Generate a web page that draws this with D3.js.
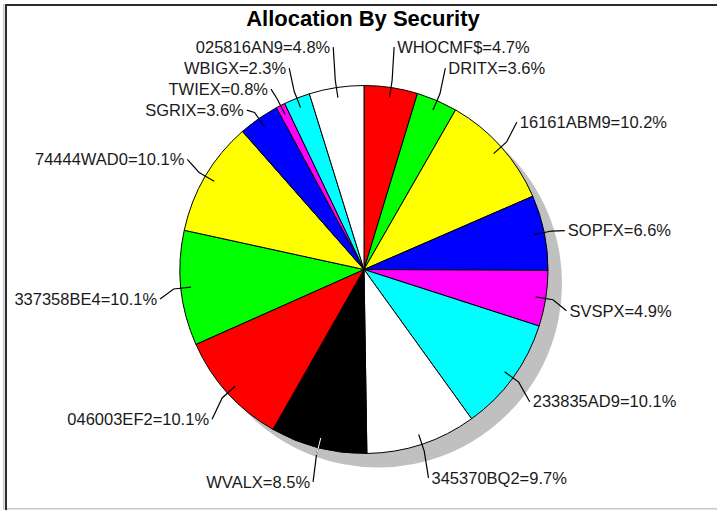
<!DOCTYPE html>
<html>
<head>
<meta charset="utf-8">
<script src="https://cdn.jsdelivr.net/npm/d3@7"></script>
<style>
    body { margin: 0; background: #fff; }
    text { font-family: "Liberation Sans", Arial, sans-serif; }
</style>
</head>
<body>
<main></main>
<script>
const securities = ["WHOCMF$", "DRITX", "16161ABM9", "SOPFX", "SVSPX", "233835AD9", "345370BQ2",
    "WVALX", "046003EF2", "337358BE4", "74444WAD0", "SGRIX", "TWIEX", "WBIGX", "025816AN9"];
const weights = [4.7, 3.6, 10.2, 6.6, 4.9, 10.1, 9.7, 8.5, 10.1, 10.1, 10.1, 3.6, 0.8, 2.3, 4.8];
const palette = ["#ff0000", "#00ff00", "#ffff00", "#0000ff", "#ff00ff", "#00ffff", "#ffffff", "#000000"];

const drawChart = () => {

    const outerWidth = 717,
        outerHeight = 510,
        cx = 364,
        cy = 269.5,
        radius = 184,
        shadowOffset = 14;

    const svg = d3.select("main").append("svg")
        .attr("width", outerWidth)
        .attr("height", outerHeight)
        .style("display", "block");

    // sunken frame
    svg.append("rect").attr("x", 3).attr("y", 4).attr("width", 1.5).attr("height", 506).attr("fill", "#c8c8c8");
    svg.append("rect").attr("x", 5).attr("y", 508).attr("width", 712).attr("height", 1.5).attr("fill", "#c8c8c8");
    svg.append("rect").attr("x", 5).attr("y", 4).attr("width", 712).attr("height", 2).attr("fill", "#2b2b2b");
    svg.append("rect").attr("x", 5).attr("y", 4).attr("width", 2).attr("height", 506).attr("fill", "#2b2b2b");

    svg.append("text")
        .attr("x", 363)
        .attr("y", 26)
        .attr("text-anchor", "middle")
        .attr("font-size", 22)
        .attr("font-weight", "bold")
        .attr("fill", "#000")
        .text("Allocation By Security");

    const data = securities.map((s, i) => ({name: s, value: weights[i]}));

    const pie = d3.pie().sort(null).value(d => d.value);
    const arcs = pie(data);

    const color = d3.scaleOrdinal().domain(d3.range(palette.length)).range(palette);

    const arc = d3.arc().innerRadius(0).outerRadius(radius);

    const g = svg.append("g")
        .attr("transform", "translate(" + cx + "," + cy + ")");

    // shadow
    g.append("circle")
        .attr("cx", shadowOffset)
        .attr("cy", shadowOffset)
        .attr("r", radius)
        .attr("fill", "#c0c0c0");

    g.selectAll(".slice")
        .data(arcs)
        .enter()
        .append("path")
        .attr("class", "slice")
        .attr("d", arc)
        .attr("fill", (d, i) => color(i % palette.length))
        .attr("stroke", "#000")
        .attr("stroke-width", 1)
        .attr("stroke-linejoin", "round");

    // label layout: egg-shaped ring around the pie, then push overlapping labels apart
    const polar = (a, r) => [r * Math.sin(a), -r * Math.cos(a)];
    const labelPos = (a) => {
        const c = Math.cos(a);
        const ry = c > 0 ? radius + 49 : radius + 27;
        return [(radius + 21) * Math.sin(a), 8 - ry * c];
    };

    const labels = arcs.map((d) => {
        const a = (d.startAngle + d.endAngle) / 2;
        const end = labelPos(a);
        return {
            d: d,
            a: a,
            right: Math.sin(a) >= 0,
            inner: polar(a, radius * 0.945),
            kink: polar(a, radius * 1.04),
            x: end[0],
            y: end[1]
        };
    });

    const minGap = 21;
    [true, false].forEach((side) => {
        const upper = labels.filter(l => l.right === side && l.y < 0).sort((p, q) => p.y - q.y);
        for (let i = 1; i < upper.length; i++) {
            if (upper[i].y - upper[i - 1].y < minGap) upper[i].y = upper[i - 1].y + minGap;
        }
        const lower = labels.filter(l => l.right === side && l.y >= 0).sort((p, q) => q.y - p.y);
        for (let i = 1; i < lower.length; i++) {
            if (lower[i - 1].y - lower[i].y < minGap) lower[i].y = lower[i - 1].y - minGap;
        }
    });

    const line = d3.line();

    g.selectAll(".leader")
        .data(labels)
        .enter()
        .append("path")
        .attr("class", "leader")
        .attr("fill", "none")
        .attr("stroke", "#000")
        .attr("stroke-width", 1.2)
        .attr("d", l => line([l.inner, l.kink, [l.x, l.y]]));

    // light tick where the leader starts inside dark slices
    g.selectAll(".leader-hi")
        .data(labels.filter(l => l.d.index % palette.length === 7))
        .enter()
        .append("path")
        .attr("class", "leader-hi")
        .attr("fill", "none")
        .attr("stroke", "#fff")
        .attr("stroke-width", 1)
        .attr("d", l => line([l.inner, l.kink]));

    g.selectAll(".label")
        .data(labels)
        .enter()
        .append("text")
        .attr("class", "label")
        .attr("x", l => l.right ? l.x + 3 : l.x - 3)
        .attr("y", l => l.y)
        .attr("dy", "0.35em")
        .attr("text-anchor", l => l.right ? "start" : "end")
        .attr("font-size", 16.5)
        .attr("fill", "#1a1a1a")
        .text(l => l.d.data.name + "=" + l.d.data.value + "%");
}

drawChart();
</script>
</body>
</html>
